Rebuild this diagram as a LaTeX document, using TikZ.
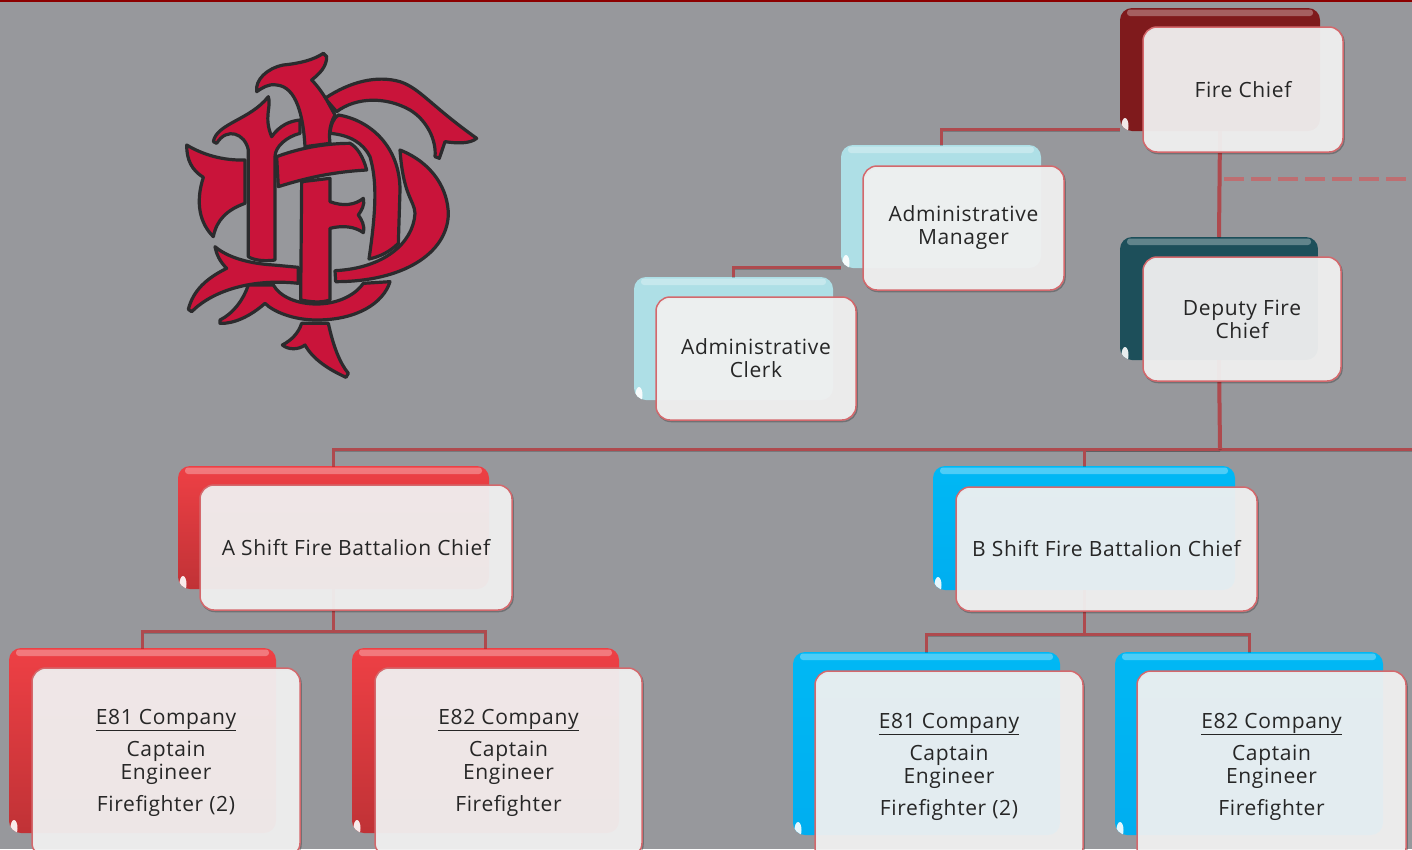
\documentclass[tikz,border=0pt]{standalone}
\usepackage{fontspec}
\setmainfont[LetterSpace=3]{Open Sans}
\usetikzlibrary{positioning}
\definecolor{slate}{HTML}{97989C}
\definecolor{orgred}{HTML}{AE4A4E}
\definecolor{edgered}{HTML}{D4686C}
\definecolor{crestred}{HTML}{C9143A}
\definecolor{crestdark}{HTML}{2B2B2D}
\definecolor{chiefred}{HTML}{7F1A1C}
\definecolor{adminblue}{HTML}{AEDFE6}
\definecolor{deputyteal}{HTML}{1D4F5A}
\definecolor{shiftred}{HTML}{EE4045}
\definecolor{shiftreddark}{HTML}{C03236}
\definecolor{shiftblue}{HTML}{00B8F4}
\definecolor{shiftbluedark}{HTML}{00AEF0}
\tikzset{
	backbox/.style n args={2}{rounded corners=12pt,inner sep=0pt,top color=#1,bottom color=#2,
		path picture={
			\fill[white,opacity=.3,rounded corners=3pt] ([xshift=7pt,yshift=-1.5pt]path picture bounding box.north west) rectangle ([xshift=-7pt,yshift=-8pt]path picture bounding box.north east);
			\fill[white,opacity=.9,rotate around={40:([xshift=5pt,yshift=5pt]path picture bounding box.south west)}] ([xshift=5pt,yshift=5pt]path picture bounding box.south west) ellipse (3.5pt and 8pt);
		}},
	frontbox/.style={rounded corners=14pt,inner sep=0pt,align=center,draw=edgered,line width=1.5pt,fill=black!6,fill opacity=.95,text opacity=1,text=black!85,
		font=\fontsize{21}{23}\selectfont,
		preaction={draw=black,draw opacity=.25,line width=1.5pt,transform canvas={xshift=1pt,yshift=-1.5pt}}},
	orgline/.style={draw=orgred,line width=3pt,preaction={draw=black,draw opacity=.2,line width=3pt,transform canvas={yshift=-1pt}}},
	trunkline/.style={orgline,line width=4pt},
	dashline/.style={draw=orgred!80!white,line width=3.5pt,dash pattern=on 20pt off 7pt},
	crest/.style={fill=crestred,draw=crestdark,line width=3.2pt,line join=round}
}
\begin{document}
\begin{tikzpicture}[x=1pt,y=-1pt]
	\useasboundingbox (0,0) rectangle (1412,849);
	\clip (0,0) rectangle (1412,849);
	\fill[slate] (0,0) rectangle (1412,849);
	\fill[red!55!black] (0,0) rectangle (1412,1.5);

	\node (chiefB) [backbox={chiefred}{chiefred},minimum width=200pt,minimum height=123pt] at (1220,69.5) {};
	\node (managerB) [backbox={adminblue}{adminblue},minimum width=200pt,minimum height=123pt] at (941,206.5) {};
	\node (clerkB) [backbox={adminblue}{adminblue},minimum width=199pt,minimum height=123pt] at (733.5,338.5) {};
	\node (deputyB) [backbox={deputyteal}{deputyteal},minimum width=198pt,minimum height=123pt] at (1219,298.5) {};
	\node (shiftaB) [backbox={shiftred}{shiftreddark},minimum width=311pt,minimum height=123pt] at (333.5,527.5) {};
	\node (shiftbB) [backbox={shiftblue}{shiftbluedark},minimum width=302pt,minimum height=124pt] at (1084,528) {};
	\node (aoneB) [backbox={shiftred}{shiftreddark},minimum width=267pt,minimum height=185pt] at (142.5,740.5) {};
	\node (atwoB) [backbox={shiftred}{shiftreddark},minimum width=267pt,minimum height=185pt] at (485.5,740.5) {};
	\node (boneB) [backbox={shiftblue}{shiftbluedark},minimum width=267pt,minimum height=183pt] at (926.5,743.5) {};
	\node (btwoB) [backbox={shiftblue}{shiftbluedark},minimum width=268pt,minimum height=183pt] at (1249,743.5) {};

	\coordinate (bus) at (1220,449);
	\coordinate (busend) at (1412,449);
	\coordinate (dashstart) at (1224,179);
	\coordinate (dashend) at (1412,179);
	\coordinate (abus) at (333.5,631);
	\coordinate (bbus) at (1084,634);
	\draw[orgline] ([yshift=2pt]chiefB.south west) -| (managerB.north);
	\draw[dashline] (dashstart) -- (dashend);
	\draw[orgline] ([yshift=1pt]managerB.south west) -| (clerkB.north);
	\draw[orgline] (bus) -- (busend);
	\draw[orgline] (bus) -| (shiftaB.north);
	\draw[orgline] (bus) -| (shiftbB.north);
	\draw[trunkline] (chiefB.south) -- (deputyB.north);
	\draw[trunkline] (deputyB.south) -- (bus);
	\draw[orgline] (shiftaB.south) -- (abus);
	\draw[orgline] (abus) -| (aoneB.north);
	\draw[orgline] (abus) -| (atwoB.north);
	\draw[orgline] (shiftbB.south) -- (bbus);
	\draw[orgline] (bbus) -| (boneB.north);
	\draw[orgline] (bbus) -| (btwoB.north);

	\node (chief) [frontbox,minimum width=200pt,minimum height=125pt] at (1243,89.5) {Fire Chief};
	\node (manager) [frontbox,minimum width=201pt,minimum height=124pt] at (963.5,228) {Administrative\\Manager};
	\node (clerk) [frontbox,minimum width=200pt,minimum height=123pt] at (756,358.5) {Administrative\\Clerk};
	\node (deputy) [frontbox,minimum width=198pt,minimum height=124pt] at (1242,319) {Deputy Fire\\Chief};
	\node (shifta) [frontbox,minimum width=312pt,minimum height=125pt] at (356,547.5) {A Shift Fire Battalion Chief};
	\node (shiftb) [frontbox,minimum width=301pt,minimum height=124pt] at (1106.5,549) {B Shift Fire Battalion Chief};
	\node (aone) [frontbox,minimum width=268pt,minimum height=189pt] at (166,762.5) {\underline{E81 Company}\\[9pt]Captain\\Engineer\\[9pt]Firefighter (2)};
	\node (atwo) [frontbox,minimum width=267pt,minimum height=189pt] at (508.5,762.5) {\underline{E82 Company}\\[9pt]Captain\\Engineer\\[9pt]Firefighter};
	\node (bone) [frontbox,minimum width=268pt,minimum height=191pt] at (949,766.5) {\underline{E81 Company}\\[9pt]Captain\\Engineer\\[9pt]Firefighter (2)};
	\node (btwo) [frontbox,minimum width=269pt,minimum height=191pt] at (1271.5,766.5) {\underline{E82 Company}\\[9pt]Captain\\Engineer\\[9pt]Firefighter};

	\begin{scope}[shift={(170,40)},scale=1/3]
		\draw[crest] (465,175) .. controls (540,125) and (620,105) .. (690,125) .. controls (750,145) and (780,195) .. (920,295) .. controls (900,312) and (860,310) .. (825,305) -- (808,355) -- (795,350) .. controls (800,300) and (770,240) .. (720,210) .. controls (650,170) and (560,170) .. (500,215) -- cycle;
		\draw[crest] (690,330) .. controls (790,370) and (835,450) .. (835,525) .. controls (830,640) and (700,725) .. (497,725) -- (495,692) .. controls (640,685) and (730,610) .. (735,520) .. controls (733,480) and (700,470) .. (690,330) -- cycle;
		\draw[crest] (480,280) .. controls (482,255) and (490,235) .. (505,225) .. controls (600,240) and (690,320) .. (690,450) -- (685,610) .. controls (660,635) and (630,650) .. (597,657) .. controls (620,500) and (620,420) .. (600,350) .. controls (580,310) and (540,285) .. (480,280) -- cycle;
		\draw[crest] (50,315) .. controls (100,345) and (160,362) .. (225,360) -- (225,490) .. controls (170,510) and (140,540) .. (130,590) .. controls (90,550) and (75,490) .. (100,412) .. controls (65,390) and (50,360) .. (50,315) -- cycle;
		\draw[crest] (235,650) -- (235,330) .. controls (225,280) and (170,260) .. (140,310) -- (130,305) .. controls (140,250) and (240,240) .. (295,170) .. controls (305,200) and (280,230) .. (305,290) .. controls (330,255) and (360,243) .. (390,240) -- (390,280) .. controls (350,290) and (315,320) .. (315,350) -- (315,660) .. controls (280,665) and (250,660) .. (235,650) -- cycle;
		\draw[crest] (135,620) .. controls (170,650) and (230,670) .. (310,675) -- (385,682) -- (385,730) .. controls (250,715) and (130,750) .. (65,815) -- (55,808) .. controls (70,750) and (110,715) .. (170,685) .. controls (150,665) and (140,645) .. (135,620) -- cycle;
		\draw[crest] (660,725) .. controls (640,790) and (560,840) .. (440,840) .. controls (370,840) and (310,815) .. (285,790) .. controls (240,830) and (190,852) .. (150,850) -- (150,840) .. controls (190,820) and (220,780) .. (235,735) -- (310,735) .. controls (330,770) and (380,792) .. (440,792) .. controls (510,792) and (560,760) .. (580,730) -- cycle;
		\draw[crest] (395,850) -- (475,850) .. controls (490,920) and (510,970) .. (535,1000) -- (528,1012) .. controls (480,990) and (430,960) .. (405,915) .. controls (385,930) and (355,930) .. (337,915) .. controls (365,900) and (385,880) .. (395,850) -- cycle;
		\draw[crest] (405,320) .. controls (400,230) and (380,140) .. (320,135) .. controls (295,130) and (275,145) .. (260,155) .. controls (255,120) and (290,85) .. (340,75) .. controls (390,70) and (430,60) .. (460,40) -- (470,50) .. controls (470,80) and (450,100) .. (425,120) .. controls (440,135) and (455,155) .. (470,180) -- (495,225) .. controls (475,260) and (478,290) .. (480,310) -- cycle;
		\draw[crest] (395,425) -- (480,415) -- (480,485) .. controls (520,500) and (555,495) .. (580,475) .. controls (585,495) and (575,510) .. (565,525) .. controls (575,540) and (585,555) .. (580,578) .. controls (555,560) and (520,555) .. (480,565) -- (480,780) .. controls (450,790) and (420,785) .. (392,780) -- cycle;
		\draw[crest] (320,350) .. controls (400,320) and (480,310) .. (540,310) .. controls (560,320) and (580,350) .. (590,390) .. controls (500,395) and (420,410) .. (325,440) -- cycle;
	\end{scope}
\end{tikzpicture}
\end{document}
